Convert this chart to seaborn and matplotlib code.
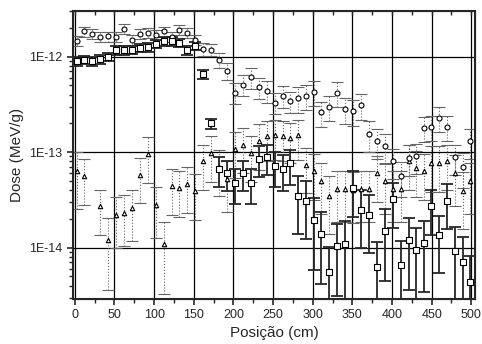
import numpy as np
import pandas as pd
import matplotlib
matplotlib.use("Agg")
import matplotlib.pyplot as plt
import matplotlib.ticker as mticker
import seaborn as sns

# Posições (cm) comuns às três séries
posicao = [3, 12, 22, 32, 42, 52, 62, 72, 82, 92, 102, 112, 122, 132, 142, 152,
           162, 172, 182, 192, 202, 212, 222, 232, 242, 252, 262, 272, 282, 292, 302,
           311, 321, 331, 341, 351, 361, 371, 381, 391, 401, 411, 421, 430, 440, 449,
           459, 469, 479, 489, 499]

# Série de círculos (barras pontilhadas)
dose_circ = [1.45e-12, 1.84e-12, 1.73e-12, 1.60e-12, 1.63e-12, 1.60e-12, 1.95e-12, 1.50e-12,
             1.74e-12, 1.77e-12, 1.70e-12, 1.84e-12, 1.60e-12, 1.90e-12, 1.77e-12, 1.50e-12,
             1.20e-12, 1.18e-12, 9.3e-13, 7.1e-13, 4.2e-13, 5.1e-13, 6.1e-13, 4.8e-13,
             4.4e-13, 3.3e-13, 3.9e-13, 3.4e-13, 3.7e-13, 3.9e-13, 4.3e-13,
             2.6e-13, 3.0e-13, 4.2e-13, 2.8e-13, 2.7e-13, 3.1e-13, 1.56e-13, 1.3e-13,
             1.15e-13, 8.0e-14, 5.6e-14, 8.7e-14, 9.1e-14, 1.8e-13, 1.85e-13, 2.3e-13,
             1.85e-13, 8.8e-14, 7.0e-14, 1.3e-13]
err_circ = [0.12, 0.12, 0.12, 0.12, 0.12, 0.12, 0.12, 0.12, 0.12, 0.12, 0.12, 0.12, 0.12, 0.12, 0.12, 0.12,
            0.15, 0.15, 0.18, 0.2, 0.25, 0.25, 0.25, 0.25, 0.25, 0.25, 0.25, 0.25, 0.3, 0.3, 0.3,
            0.3, 0.3, 0.3, 0.3, 0.3, 0.3, 0.35, 0.35, 0.35, 0.35, 0.4, 0.35, 0.35, 0.3, 0.3, 0.3,
            0.3, 0.35, 0.4, 0.35]

# Série de quadrados (barras contínuas)
dose_quad = [8.9e-13, 9.3e-13, 8.9e-13, 9.4e-13, 1.0e-12, 1.16e-12, 1.16e-12, 1.18e-12,
             1.23e-12, 1.25e-12, 1.37e-12, 1.45e-12, 1.45e-12, 1.39e-12, 1.16e-12, 1.30e-12,
             6.5e-13, 2.0e-13, 6.6e-14, 6.0e-14, 4.8e-14, 6.0e-14, 4.8e-14, 8.5e-14,
             8.8e-14, 7.1e-14, 6.6e-14, 7.6e-14, 3.5e-14, 3.1e-14, 1.96e-14,
             1.4e-14, 5.6e-15, 1.05e-14, 1.08e-14, 4.2e-14, 2.5e-14, 2.2e-14, 6.3e-15,
             1.5e-14, 3.2e-14, 6.5e-15, 1.2e-14, 9.5e-15, 1.13e-14, 2.7e-14, 1.35e-14,
             3.1e-14, 9.3e-15, 7.1e-15, 4.4e-15]
err_quad = [0.1, 0.1, 0.1, 0.1, 0.1, 0.1, 0.1, 0.1, 0.1, 0.1, 0.1, 0.1, 0.1, 0.1, 0.1, 0.1,
            0.1, 0.12, 0.35, 0.35, 0.4, 0.35, 0.4, 0.35, 0.35, 0.4, 0.4, 0.4, 0.6, 0.6, 0.7,
            0.7, 0.8, 0.7, 0.75, 0.5, 0.6, 0.6, 0.8, 0.7, 0.5, 0.8, 0.7, 0.7, 0.7, 0.5, 0.6,
            0.5, 0.75, 0.8, 0.85]

# Série de triângulos (barras pontilhadas)
dose_tri = [6.3e-14, 5.6e-14, np.nan, 2.7e-14, 1.2e-14, 2.2e-14, 2.3e-14, 2.6e-14,
            5.8e-14, 9.6e-14, 2.8e-14, 1.1e-14, 4.4e-14, 4.2e-14, 4.6e-14, 3.9e-14,
            8.0e-14, 9.8e-14, 7.0e-14, 5.2e-14, 1.07e-13, 1.2e-13, 9.8e-14, 1.3e-13,
            1.47e-13, 1.5e-13, 1.47e-13, 1.4e-13, 1.5e-13, 7.4e-14, 6.3e-14,
            5.0e-14, 3.5e-14, 4.1e-14, 4.1e-14, 4.0e-14, 4.1e-14, 4.1e-14, 6.0e-14,
            5.0e-14, 4.1e-14, 4.1e-14, 8.0e-14, 6.8e-14, 6.3e-14, 7.7e-14, 7.7e-14,
            8.0e-14, 6.0e-14, 3.9e-14, 5.0e-14]
err_tri = [0.6, 0.5, 0.5, 0.5, 0.7, 0.55, 0.55, 0.55, 0.5, 0.5, 0.55, 0.7, 0.5, 0.5, 0.5, 0.5,
           0.5, 0.5, 0.5, 0.55, 0.5, 0.5, 0.5, 0.5, 0.45, 0.45, 0.45, 0.45, 0.45, 0.5, 0.5,
           0.55, 0.6, 0.55, 0.55, 0.55, 0.55, 0.55, 0.5, 0.55, 0.55, 0.55, 0.5, 0.5, 0.5, 0.5, 0.5,
           0.5, 0.55, 0.6, 0.55]

# Rótulos das décadas no eixo y
decadas = [1e-14, 1e-13, 1e-12]

sns.set_style("ticks")
plt.rcParams["font.family"] = ["Liberation Sans", "DejaVu Sans"]

fig = plt.figure(figsize=(4.82, 3.44), dpi=100)
ax = fig.add_axes([0.151, 0.131, 0.835, 0.837])
ax.set_yscale("log")

# ── Grade principal ─────────────────────────────────────────────────────
ax.set_axisbelow(True)
ax.grid(True, which="major", color="black", lw=0.9)

series = [
    # dose, erro relativo, marcador, estilo da barra, espessura, tamanho
    (dose_tri, err_tri, "^", ":", 0.8, 10),
    (dose_circ, err_circ, "o", ":", 0.8, 13),
    (dose_quad, err_quad, "s", "-", 1.3, 13),
]
for dose, rel, mk, ls, lw, size in series:
    y = np.array(dose)
    e = y * np.array(rel)
    eb = ax.errorbar(posicao, y, yerr=e, fmt="none", ecolor="0.15" if ls == "-" else "0.4",
                     elinewidth=lw, capsize=4, capthick=lw, zorder=2)
    eb[2][0].set_linestyle(ls)
    df = pd.DataFrame({"Posição": posicao, "Dose": dose})
    sns.scatterplot(data=df, x="Posição", y="Dose", marker=mk, s=size, color="white",
                    edgecolor="black", linewidth=0.8, ax=ax, zorder=3)

ax.set_xlim(-2.5, 505)
ax.set_ylim(2.9e-15, 3.0e-12)

ax.xaxis.set_major_locator(mticker.MultipleLocator(50))
ax.xaxis.set_minor_locator(mticker.MultipleLocator(25))
ax.yaxis.set_major_locator(mticker.FixedLocator(decadas))
ax.yaxis.set_minor_locator(mticker.LogLocator(base=10, subs=np.arange(2, 10), numticks=10))
ax.yaxis.set_major_formatter(mticker.FuncFormatter(lambda v, _: f"1E{int(np.round(np.log10(v)))}"))
ax.yaxis.set_minor_formatter(mticker.NullFormatter())

ax.tick_params(which="major", direction="out", length=4, width=1.2, labelsize=9)
ax.tick_params(which="minor", direction="out", length=3, width=1.0)

# ticks internos no topo (eixo gêmeo sem rótulos)
topo = ax.twiny()
topo.set_xlim(ax.get_xlim())
topo.xaxis.set_major_locator(mticker.MultipleLocator(25))
topo.tick_params(direction="in", length=3, width=1.0, labeltop=False)

for sp in ax.spines.values():
    sp.set_linewidth(1.5)
    sp.set_visible(True)

ax.set_xlabel("Posição (cm)", fontsize=11, labelpad=3)
ax.set_ylabel("Dose (MeV/g)", fontsize=11, labelpad=4)

fig.savefig("out.png", dpi=100)
